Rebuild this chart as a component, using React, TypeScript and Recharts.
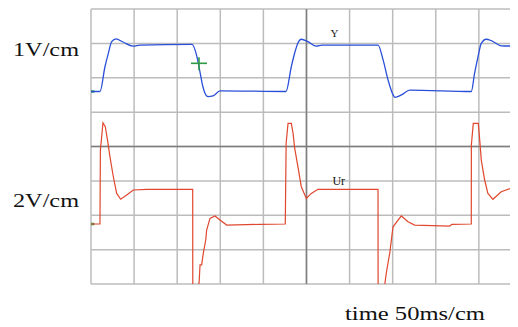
import React from 'react';
import { LineChart, Line, XAxis, YAxis, CartesianGrid, ReferenceLine, ReferenceDot } from 'recharts';

// time axis (ms), 50 ms per division
const timeTicks = [0, 50, 100, 150, 200, 250, 300, 350, 400, 450];
// channel 1 volts at each horizontal division (1 V/div), screen centre at -1.6 V
const voltTicks = [-5.6, -4.6, -3.6, -2.6, -1.6, -0.6, 0.4, 1.4, 2.4];

// channel 1: Y (1 V/div)
const yTime = [0, 10.4, 16.2, 20.1, 24.0, 29.0, 37.1, 48.7, 56.8, 117.2, 123.0, 126.4, 129.9, 135.7, 141.5, 149.7, 226.2,
  232.4, 236.3, 240.2, 244.0, 251.7, 261.4, 268.0, 333.0, 338.9, 344.7, 350.5, 352.5, 360.2, 369.9, 441.2,
  445.1, 449.0, 452.8, 458.6, 464.4, 476.0, 495.4];
const yVolts = [0, 0, 0.72, 1.11, 1.45, 1.53, 1.44, 1.32, 1.35, 1.37, 1.0, 0.57, 0.13, -0.15, -0.13, 0.02, 0,
  0.72, 1.12, 1.42, 1.52, 1.45, 1.32, 1.35, 1.35, 0.92, 0.33, -0.1, -0.17, -0.1, 0.04, 0,
  0.54, 1.01, 1.4, 1.52, 1.48, 1.33, 1.32];

// channel 2: Ur (2 V/div)
const urTime = [0, 10.4, 10.9, 13.9, 16.6, 19.7, 22.0, 25.9, 29.8, 34.5, 41.4, 49.1, 64.6, 118.0, 118.1, 124.5,
  125.6, 126.5, 128.4, 130.3, 133.1, 134.2, 138.0, 143.9, 149.7, 157.4, 196.0, 225.4, 226.4, 228.6, 232.4,
  234.4, 236.3, 240.1, 244.0, 249.8, 255.6, 263.3, 333.0, 333.1, 340.0, 342.6, 346.6, 350.4, 360.0, 367.8,
  375.5, 416.1, 418.8, 441.2, 441.3, 443.5, 449.3, 451.0, 452.8, 456.7, 460.5, 466.3, 475.9, 487.5, 495.4];
const urVolts = [0, 0, 4.3, 5.89, 5.66, 4.71, 3.91, 2.75, 1.78, 1.44, 1.69, 1.98, 2.02, 2.02, -3.84, -3.84,
  -3.26, -2.38, -2.38, -1.69, -0.93, -0.35, 0.33, 0.47, 0.23, -0.06, -0.02, 0, 4.71, 5.85, 5.85,
  5.29, 4.42, 3.33, 2.17, 1.49, 1.78, 2.02, 2.02, -3.84, -3.84, -2.85, -1.69, -0.16, 0.47, 0.13,
  -0.06, -0.12, -0.02, 0, 4.6, 5.85, 5.85, 4.88, 3.72, 2.56, 1.78, 1.44, 1.88, 2.08, 2.02];

const yTrace = yTime.map((t, i) => ({ t, v: yVolts[i] }));
const urTrace = urTime.map((t, i) => ({ t, v: urVolts[i] }));

const cursor = { t: 125.3, v: 0.82 };

const Cross = (props: any) => {
  const { cx, cy } = props;
  return (
    <g stroke="#2f9a45" strokeWidth={1.6}>
      <line x1={cx - 8} y1={cy} x2={cx + 8} y2={cy} />
      <line x1={cx} y1={cy - 6} x2={cx} y2={cy + 7} />
    </g>
  );
};

const textStyle = { fontFamily: '"Liberation Serif", serif', fill: '#111' };

export default function App() {
  return (
    <div style={{ position: 'relative', width: 510, height: 319 }}>
      <LineChart width={510} height={319} margin={{ top: 1, right: 0, left: 83, bottom: 43 }}>
        <XAxis type="number" dataKey="t" domain={[0, 495.4]} ticks={timeTicks} allowDataOverflow hide />
        <YAxis yAxisId="y" type="number" domain={[-5.6, 2.4]} ticks={voltTicks} allowDataOverflow hide />
        <YAxis yAxisId="ur" type="number" domain={[-3.49, 12.51]} allowDataOverflow hide />
        <CartesianGrid yAxisId="y" stroke="#bcbcbc" strokeWidth={1.5} />
        <ReferenceLine yAxisId="y" x={250} stroke="#7d7d7d" strokeWidth={1.5} />
        <ReferenceLine yAxisId="y" y={-1.6} stroke="#7d7d7d" strokeWidth={1.5} />
        <ReferenceLine yAxisId="y" segment={[{ x: 0, y: 0 }, { x: 4, y: 0 }]} stroke="#3aa04a" strokeWidth={2.5} />
        <ReferenceLine yAxisId="ur" segment={[{ x: 0, y: 0 }, { x: 4, y: 0 }]} stroke="#3aa04a" strokeWidth={2.5} />
        <Line yAxisId="ur" data={urTrace} dataKey="v" type="linear" stroke="#e0472e" strokeWidth={1.2}
          dot={false} isAnimationActive={false} />
        <Line yAxisId="y" data={yTrace} dataKey="v" type="monotone" stroke="#2a4fd8" strokeWidth={1.3}
          dot={false} isAnimationActive={false} />
        <ReferenceDot yAxisId="y" x={cursor.t} y={cursor.v} shape={<Cross />} />
        <ReferenceDot yAxisId="y" x={282.5} y={1.7} r={0} stroke="none"
          label={{ value: 'Y', position: 'center', fontSize: 11, fontFamily: '"Liberation Serif", serif', fill: '#111' }} />
        <ReferenceDot yAxisId="ur" x={287.4} y={2.5} r={0} stroke="none"
          label={{ value: 'Ur', position: 'center', fontSize: 12, fontFamily: '"Liberation Serif", serif', fill: '#111' }} />
      </LineChart>
      <svg width={510} height={319} style={{ position: 'absolute', left: 0, top: 0, pointerEvents: 'none' }}>
        <text x={5} y={48} fontSize={18} textLength={66} lengthAdjust="spacingAndGlyphs" style={textStyle}>1V/cm</text>
        <text x={5} y={199} fontSize={18} textLength={66} lengthAdjust="spacingAndGlyphs" style={textStyle}>2V/cm</text>
        <text x={337} y={312} fontSize={18} textLength={140} lengthAdjust="spacingAndGlyphs" style={textStyle}>time 50ms/cm</text>
      </svg>
    </div>
  );
}
